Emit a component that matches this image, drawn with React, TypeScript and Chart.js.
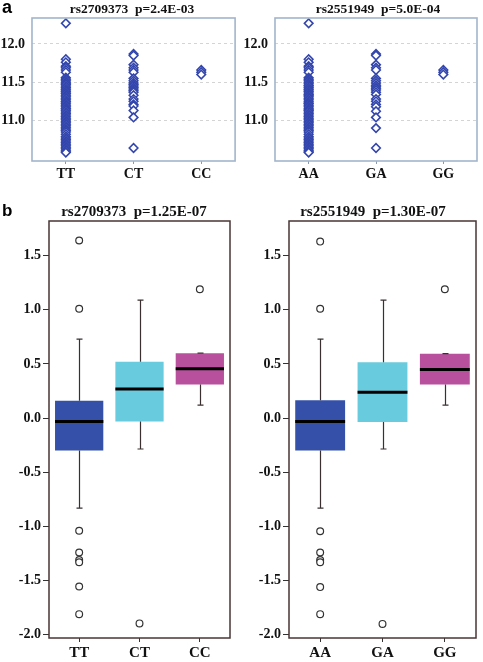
import React, { useEffect, useRef } from 'react';
import { Chart, registerables } from 'chart.js';
Chart.register(...registerables);

// ---------- data ----------
const catsA = ['TT', 'CT', 'CC'];
const catsB = ['AA', 'GA', 'GG'];

const exprTT = [12.27, 11.80, 11.76, 11.71, 11.69, 11.66, 11.63, 11.56, 11.54, 11.52, 11.50, 11.48, 11.47, 11.45, 11.43, 11.41, 11.40, 11.38, 11.36, 11.35, 11.33, 11.31, 11.29, 11.27, 11.25, 11.24, 11.22, 11.20, 11.18, 11.16, 11.15, 11.13, 11.11, 11.09, 11.07, 11.05, 11.03, 11.01, 10.99, 10.97, 10.95, 10.93, 10.91, 10.89, 10.87, 10.85, 10.82, 10.79, 10.77, 10.75, 10.73, 10.71, 10.69, 10.67, 10.65, 10.63, 10.61, 10.59, 10.58];
const exprCT = [11.87, 11.85, 11.73, 11.69, 11.66, 11.63, 11.55, 11.52, 11.49, 11.47, 11.45, 11.43, 11.41, 11.39, 11.37, 11.33, 11.28, 11.25, 11.21, 11.19, 11.13, 11.04, 10.64];
const exprCC = [11.66, 11.63, 11.60];

const exprAA = [12.27, 11.80, 11.76, 11.71, 11.69, 11.66, 11.63, 11.56, 11.54, 11.52, 11.50, 11.48, 11.46, 11.45, 11.43, 11.41, 11.40, 11.38, 11.36, 11.34, 11.33, 11.31, 11.29, 11.27, 11.25, 11.23, 11.22, 11.20, 11.18, 11.16, 11.14, 11.13, 11.11, 11.09, 11.07, 11.05, 11.03, 11.01, 10.99, 10.97, 10.95, 10.93, 10.91, 10.89, 10.87, 10.85, 10.82, 10.79, 10.77, 10.75, 10.73, 10.71, 10.69, 10.67, 10.65, 10.63, 10.61, 10.59, 10.58];
const exprGA = [11.87, 11.85, 11.73, 11.69, 11.66, 11.55, 11.52, 11.49, 11.46, 11.44, 11.42, 11.40, 11.37, 11.34, 11.28, 11.25, 11.21, 11.18, 11.12, 11.04, 10.90, 10.64];
const exprGG = [11.66, 11.63, 11.60];

const topTicks = [11.0, 11.5, 12.0];
const topMin = 10.47;
const topMax = 12.34;

const bottomTicks = [-2.0, -1.5, -1.0, -0.5, 0.0, 0.5, 1.0, 1.5];
const bottomMin = -2.03;
const bottomMax = 1.82;

// box stats (rs2709373)
const lowA = [-0.83, -0.285, 0.12];
const q1A = [-0.30, -0.03, 0.31];
const medA = [-0.03, 0.27, 0.455];
const q3A = [0.16, 0.52, 0.60];
const highA = [0.73, 1.09, 0.60];
const outTT = [1.64, 1.01, -1.04, -1.24, -1.31, -1.33, -1.555, -1.81];
const outCT = [-1.895];
const outCC = [1.19];

// box stats (rs2551949)
const lowB = [-0.83, -0.285, 0.12];
const q1B = [-0.30, -0.035, 0.31];
const medB = [-0.03, 0.24, 0.45];
const q3B = [0.165, 0.515, 0.595];
const highB = [0.73, 1.09, 0.595];
const outAA = [1.63, 1.01, -1.045, -1.24, -1.31, -1.33, -1.56, -1.81];
const outGA = [-1.90];
const outGG = [1.19];

const titles = ['rs2709373  p=2.4E-03', 'rs2551949  p=5.0E-04', 'rs2709373  p=1.25E-07', 'rs2551949  p=1.30E-07'];

// ---------- styles ----------
const SERIF = '"Liberation Serif", "Times New Roman", serif';
const SANS = '"Liberation Sans", Arial, sans-serif';
const boxColors = ['#3450a8', '#68cbde', '#b8509e'];

const framePlugin = (color: string, width: number) => ({
  id: 'frame',
  afterDraw(chart: any) {
    const { ctx, chartArea: a } = chart;
    ctx.save();
    ctx.strokeStyle = color;
    ctx.lineWidth = width;
    ctx.strokeRect(a.left, a.top, a.right - a.left, a.bottom - a.top);
    ctx.restore();
  },
});

const boxPlugin = (low: number[], med: number[], high: number[], q1: number[], q3: number[]) => ({
  id: 'boxParts',
  afterDatasetsDraw(chart: any) {
    const { ctx } = chart;
    const y = chart.scales.y;
    const meta = chart.getDatasetMeta(0);
    ctx.save();
    meta.data.forEach((bar: any, i: number) => {
      const x = Math.round(bar.x) + 0.5;
      const w = bar.width;
      ctx.strokeStyle = '#3a3030';
      ctx.lineWidth = 1.2;
      const yl = y.getPixelForValue(low[i]);
      const yh = y.getPixelForValue(high[i]);
      const y1 = y.getPixelForValue(q1[i]);
      const y3 = y.getPixelForValue(q3[i]);
      ctx.beginPath();
      ctx.moveTo(x, y3); ctx.lineTo(x, yh);
      ctx.moveTo(x - 3, yh); ctx.lineTo(x + 3, yh);
      ctx.moveTo(x, y1); ctx.lineTo(x, yl);
      ctx.moveTo(x - 3, yl); ctx.lineTo(x + 3, yl);
      ctx.stroke();
      ctx.strokeStyle = '#000';
      ctx.lineWidth = 3;
      const ym = y.getPixelForValue(med[i]);
      ctx.beginPath();
      ctx.moveTo(bar.x - w / 2, ym); ctx.lineTo(bar.x + w / 2, ym);
      ctx.stroke();
    });
    ctx.restore();
  },
});

function topConfig(cats: string[], series: number[][], yW: number, padR: number) {
  const points = cats.flatMap((c, i) => series[i].map((v) => ({ x: c, y: v })));
  return {
    type: 'line',
    data: {
      labels: cats,
      datasets: [{
        data: points,
        showLine: false,
        pointStyle: 'rectRot',
        pointRadius: 4.3,
        pointBorderWidth: 1.6,
        borderColor: '#3346ad',
        backgroundColor: '#ffffff',
      }],
    },
    options: {
      animation: false,
      responsive: false,
      plugins: { legend: { display: false }, tooltip: { enabled: false } },
      layout: { padding: { top: 18, right: padR, left: 0, bottom: 0 } },
      scales: {
        x: {
          type: 'category',
          offset: true,
          grid: { display: true, drawOnChartArea: false, drawTicks: true, tickLength: 3, color: '#8a9ab0', offset: false },
          border: { display: false },
          ticks: { color: '#111', padding: 2, font: { family: SERIF, weight: 'bold', size: 14 } },
          afterFit: (s: any) => { s.height = 24; },
        },
        y: {
          min: topMin,
          max: topMax,
          afterBuildTicks: (s: any) => { s.ticks = topTicks.map((v) => ({ value: v })); },
          grid: { color: '#d4d4d4', drawTicks: false, lineWidth: 1 },
          border: { display: false, dash: [3, 3] },
          ticks: { color: '#111', padding: 7, font: { family: SERIF, weight: 'bold', size: 14 }, callback: (v: any) => Number(v).toFixed(1) },
          afterFit: (s: any) => { s.width = yW; },
        },
      },
    },
    plugins: [framePlugin('#a2b4cb', 1.6)],
  };
}

function bottomConfig(cats: string[], low: number[], q1: number[], med: number[], q3: number[], high: number[], outs: number[][], yW: number, padR: number) {
  const outPoints = cats.flatMap((c, i) => outs[i].map((v) => ({ x: c, y: v })));
  return {
    type: 'bar',
    data: {
      labels: cats,
      datasets: [
        {
          type: 'bar',
          data: cats.map((_, i) => [q1[i], q3[i]]),
          backgroundColor: boxColors,
          borderWidth: 0,
          barPercentage: 0.8,
          categoryPercentage: 1,
        },
        {
          type: 'line',
          data: outPoints,
          showLine: false,
          pointStyle: 'circle',
          pointRadius: 3.4,
          pointBorderWidth: 1.2,
          borderColor: '#333',
          backgroundColor: '#ffffff',
        },
      ],
    },
    options: {
      animation: false,
      responsive: false,
      plugins: { legend: { display: false }, tooltip: { enabled: false } },
      layout: { padding: { top: 21, right: padR, left: 0, bottom: 0 } },
      scales: {
        x: {
          type: 'category',
          offset: true,
          grid: { display: true, drawOnChartArea: false, drawTicks: true, tickLength: 4, color: '#333', offset: false },
          border: { display: false },
          ticks: { color: '#111', padding: 2, font: { family: SERIF, weight: 'bold', size: 15 } },
          afterFit: (s: any) => { s.height = 24; },
        },
        y: {
          min: bottomMin,
          max: bottomMax,
          afterBuildTicks: (s: any) => { s.ticks = bottomTicks.map((v) => ({ value: v })); },
          grid: { display: true, drawOnChartArea: false, drawTicks: true, tickLength: 6, color: '#333' },
          border: { display: false },
          ticks: { color: '#111', padding: 2, font: { family: SERIF, weight: 'bold', size: 14 }, callback: (v: any) => Number(v).toFixed(1) },
          afterFit: (s: any) => { s.width = yW; },
        },
      },
    },
    plugins: [boxPlugin(low, med, high, q1, q3), framePlugin('#4a3535', 1.5)],
  };
}

function Panel({ left, top, width, height, config }: any) {
  const ref = useRef<HTMLCanvasElement>(null);
  useEffect(() => {
    const chart = new Chart(ref.current as HTMLCanvasElement, config);
    return () => chart.destroy();
  }, []);
  return <canvas ref={ref} width={width} height={height} style={{ position: 'absolute', left, top, width, height }} />;
}

function Label({ x, y, text, size }: any) {
  return (
    <div style={{ position: 'absolute', left: x, top: y, transform: 'translate(-50%, -50%)', fontFamily: SERIF, fontWeight: 'bold', fontSize: size, lineHeight: 1, whiteSpace: 'pre', color: '#111' }}>{text}</div>
  );
}

export default function App() {
  return (
    <div style={{ position: 'absolute', left: 0, top: 0, width: 483, height: 662, background: '#fff', overflow: 'hidden' }}>
      <Panel left={0} top={0} width={241} height={185} config={topConfig(catsA, [exprTT, exprCT, exprCC], 32, 4)} />
      <Panel left={241} top={0} width={242} height={185} config={topConfig(catsB, [exprAA, exprGA, exprGG], 34, 6)} />
      <Panel left={0} top={200} width={240} height={462} config={bottomConfig(catsA, lowA, q1A, medA, q3A, highA, [outTT, outCT, outCC], 49, 10)} />
      <Panel left={240} top={200} width={243} height={462} config={bottomConfig(catsB, lowB, q1B, medB, q3B, highB, [outAA, outGA, outGG], 49, 7)} />
      <Label x={132} y={9} text={titles[0]} size={13.5} />
      <Label x={378} y={9} text={titles[1]} size={13.5} />
      <Label x={134} y={211} text={titles[2]} size={15} />
      <Label x={373} y={211} text={titles[3]} size={15} />
      <div style={{ position: 'absolute', left: 2, top: -2, fontFamily: SANS, fontWeight: 'bold', fontSize: 18, lineHeight: 1 }}>a</div>
      <div style={{ position: 'absolute', left: 2, top: 202, fontFamily: SANS, fontWeight: 'bold', fontSize: 17, lineHeight: 1 }}>b</div>
    </div>
  );
}
